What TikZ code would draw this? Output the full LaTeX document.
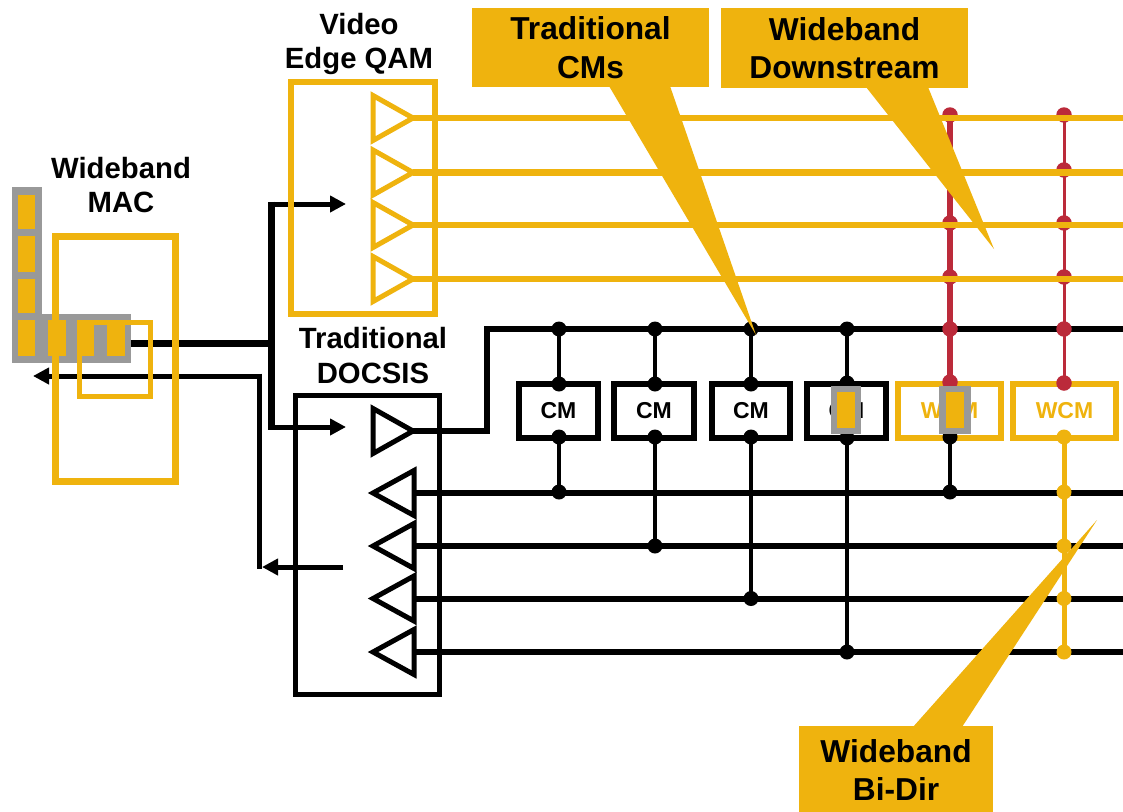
\documentclass[tikz,border=0pt]{standalone}
\usepackage{fontspec}
\setmainfont{Liberation Sans}
\usetikzlibrary{arrows.meta,shapes.geometric}
\definecolor{gold}{HTML}{EFB30E}
\definecolor{wred}{HTML}{BB2A3A}
\definecolor{chipgray}{HTML}{999999}
\pgfdeclarelayer{bg}
\pgfdeclarelayer{back}
\pgfdeclarelayer{over}
\pgfdeclarelayer{top}
\pgfsetlayers{bg,back,main,over,top}
\tikzset{
  x=1pt,y=-1pt,
  lbl/.style={align=center,font=\fontsize{29.3}{34.5}\selectfont\bfseries,text=black,inner sep=0},
  calloutbox/.style={fill=gold,inner sep=0,align=center,font=\fontsize{31.7}{38.5}\selectfont\bfseries,text=black},
  pointer/.style={fill=gold},
  frame/.style={draw=gold,line width=#1,inner sep=0,outer sep=0},
  cmbox/.style={draw=black,line width=6,minimum width=#1,minimum height=54,inner sep=0,outer sep=0,
     font=\fontsize{23}{24}\selectfont\bfseries,fill=white},
  wcmbox/.style={draw=gold,text=gold,line width=6,minimum width=#1,minimum height=54,inner sep=0,outer sep=0,
     font=\fontsize{23}{24}\selectfont\bfseries,fill=white},
  dotk/.style={circle,fill=black,inner sep=0,minimum size=15},
  dotr/.style={circle,fill=wred,inner sep=0,minimum size=15.5},
  doto/.style={circle,fill=gold,inner sep=0,minimum size=15},
  cell/.style={fill=gold,inner sep=0,outer sep=0,minimum width=#1},
  graybar/.style={fill=chipgray,inner sep=0,outer sep=0},
  ampr/.style={isosceles triangle,isosceles triangle stretches,draw=#1,line width=5,inner sep=0,outer sep=0,
     minimum width=45,minimum height=40,anchor=apex},
  ampl/.style={isosceles triangle,isosceles triangle stretches,draw=black,line width=5,inner sep=0,outer sep=0,
     minimum width=45,minimum height=41,shape border rotate=180,anchor=apex},
  bus/.style={line width=#1,line cap=butt},
  arr/.style={line width=5,-{Triangle[length=16pt,width=16pt]}},
}
\begin{document}
\begin{tikzpicture}
\useasboundingbox (0,0) rectangle (1123,811);
\clip (0,0) rectangle (1123,811);
\begin{pgfonlayer}{bg}
  \fill[white] (0,0) rectangle (1123,811);
\end{pgfonlayer}

% free ends
\coordinate (macout) at (131,343);
\coordinate (j1) at (271.5,343);
\coordinate (upx) at (271.5,201.5);
\coordinate (downx) at (271.5,429.5);
\coordinate (up) at (271.5,204);
\coordinate (down) at (271.5,427);
\coordinate (vidin) at (346,204);
\coordinate (docin) at (346,427);
\coordinate (retin) at (33,376);
\coordinate (retc) at (259.5,376);
\coordinate (retd) at (259.5,569);
\coordinate (rett) at (262,567);
\coordinate (docout) at (343,567);
\coordinate (k2) at (487,329);
\coordinate (rbus) at (1123,329);
\foreach \i/\y in {1/118,2/172.5,3/225,4/279}{\coordinate (ro\i) at (1123,\y);}
\foreach \i/\y in {1/493,2/546,3/598.5,4/652}{\coordinate (rk\i) at (1123,\y);}

% MAC
\node[graybar,minimum width=30,minimum height=176] (macv) at (27,275) {};
\node[graybar,minimum width=119,minimum height=49] (mach) at (71.5,338.5) {};
\node[frame=7.5,minimum width=120,minimum height=245] (mac) at (115.5,359) {};
\node[cell=17,minimum height=34] (c1) at (26.5,212) {};
\node[cell=17,minimum height=36] (c2) at (26.5,254) {};
\node[cell=17,minimum height=34] (c3) at (26.5,296) {};
\node[cell=17,minimum height=36] (c4) at (26.5,338) {};
\node[cell=18,minimum height=36] (c5) at (57,338) {};
\node[cell=17,minimum height=36] (c6) at (85.5,338) {};
\node[cell=18,minimum height=36] (c7) at (116,338) {};
\node[frame=5,minimum width=71,minimum height=74] (macsub) at (115,359.5) {};

% head-end boxes
\node[frame=6,minimum width=144,minimum height=232] (video) at (363,198) {};
\node[draw=black,line width=4.5,inner sep=0,outer sep=0,minimum width=144,minimum height=299] (docsis) at (367.5,545) {};

% amplifiers
\node[ampr=gold] (v1) at (413,118) {};
\node[ampr=gold] (v2) at (413,172.5) {};
\node[ampr=gold] (v3) at (413,225) {};
\node[ampr=gold] (v4) at (413,279) {};
\node[ampr=black] (d0) at (413,431) {};
\node[ampl] (u1) at (373,493) {};
\node[ampl] (u2) at (373,546) {};
\node[ampl] (u3) at (373,598.5) {};
\node[ampl] (u4) at (373,652) {};

% modems
\node[cmbox=79] (cm1) at (558.5,411) {CM};
\node[cmbox=80] (cm2) at (654,411) {CM};
\node[cmbox=78] (cm3) at (751,411) {CM};
\node[cmbox=79] (cm4) at (846.5,411) {CM};
\node[wcmbox=103] (w1) at (949.5,411) {WCM};
\node[wcmbox=103] (w2) at (1064.5,411) {WCM};

% dots, black
\foreach \n/\x/\y in {a/559/329,b/655/329,c/751/329,e/847/329,
  a1/559/384,b1/655/384,c1/751/384,e1/847/383,
  a2/559/437,b2/655/437,c2/751/437,e2/847/438,f2/950/437,
  a3/559/492,b3/655/546,c3/751/598.5,e3/847/652,f3/950/492}
  {\node[dotk] (\n) at (\x,\y) {};}
% dots, red
\foreach \n/\x/\y in {f/950/329,g/1064/329,f1/950/382,g1/1064/383,
  fa/950/115,fb/950/170,fc/950/223,fd/950/277,
  ga/1064/115,gb/1064/170,gc/1064/223,gd/1064/277}
  {\node[dotr] (\n) at (\x,\y) {};}
% dots, gold
\foreach \n/\x/\y in {g2/1064/437,g3/1064/492,g4/1064/546,g5/1064/598.5,g6/1064/652}
  {\node[doto] (\n) at (\x,\y) {};}

% chips
\node[graybar,minimum width=30,minimum height=48] (chip1) at (846,410) {};
\node[cell=18,minimum height=36] (chip1c) at (846,410) {};
\node[graybar,minimum width=32,minimum height=48] (chip2) at (955,410) {};
\node[cell=18,minimum height=36] (chip2c) at (955,410) {};

% labels
\node[lbl] (lmac) at (121,185) {Wideband\\MAC};
\node[lbl] (lvid) at (359,44) {Video\\Edge QAM};
\node[lbl] (ldoc) at (373,355.5) {Traditional\\DOCSIS};

\begin{pgfonlayer}{back}
  \draw[bus=7] (macout) -- (j1);
  \draw[bus=7] (upx) -- (downx);
  \draw[arr] (up) -- (vidin);
  \draw[arr] (down) -- (docin);
  \draw[arr] (retc) -- (retin);
  \draw[line width=4.5] (retc) ++(0,-2.5) -- (retd);
  \draw[arr] (docout) -- (rett);
  \draw[line width=6.5,line join=miter] (d0.apex) -| (k2) -- (rbus);
  \foreach \i in {1,2,3,4}{\draw[bus=6] (u\i.lower side) -- (rk\i);}
  \foreach \a/\b in {a/a1,b/b1,c/c1,e/e1,a2/a3,b2/b3,c2/c3,e2/e3,f2/f3}
    {\draw[line width=4.5] (\a.center) -- (\b.center);}
  \draw[line width=5.5,wred] (fa.center) -- (f1.center);
  \draw[line width=3,wred] (ga.center) -- (g1.center);
  \draw[line width=5,gold] (g2.center) -- (g6.center);
\end{pgfonlayer}

\begin{pgfonlayer}{over}
  \foreach \i in {1,2,3,4}{\draw[bus=6.3,gold] (v\i.apex) -- (ro\i);}
\end{pgfonlayer}

\begin{pgfonlayer}{top}
  \node[calloutbox,minimum width=237,minimum height=79] (ctrad) at (590.5,47.5) {Traditional\\CMs};
  \fill[pointer] (609,86) -- (756,335) -- (670,86) -- cycle;
  \node[calloutbox,minimum width=247,minimum height=80] (cdown) at (844.5,48) {Wideband\\Downstream};
  \fill[pointer] (866,87) -- (994,249) -- (928,87) -- cycle;
  \node[calloutbox,minimum width=194,minimum height=88] (cbidir) at (896,770) {Wideband\\Bi-Dir};
  \fill[pointer] (913,727) -- (1097,520) -- (962,727) -- cycle;
\end{pgfonlayer}
\end{tikzpicture}
\end{document}
